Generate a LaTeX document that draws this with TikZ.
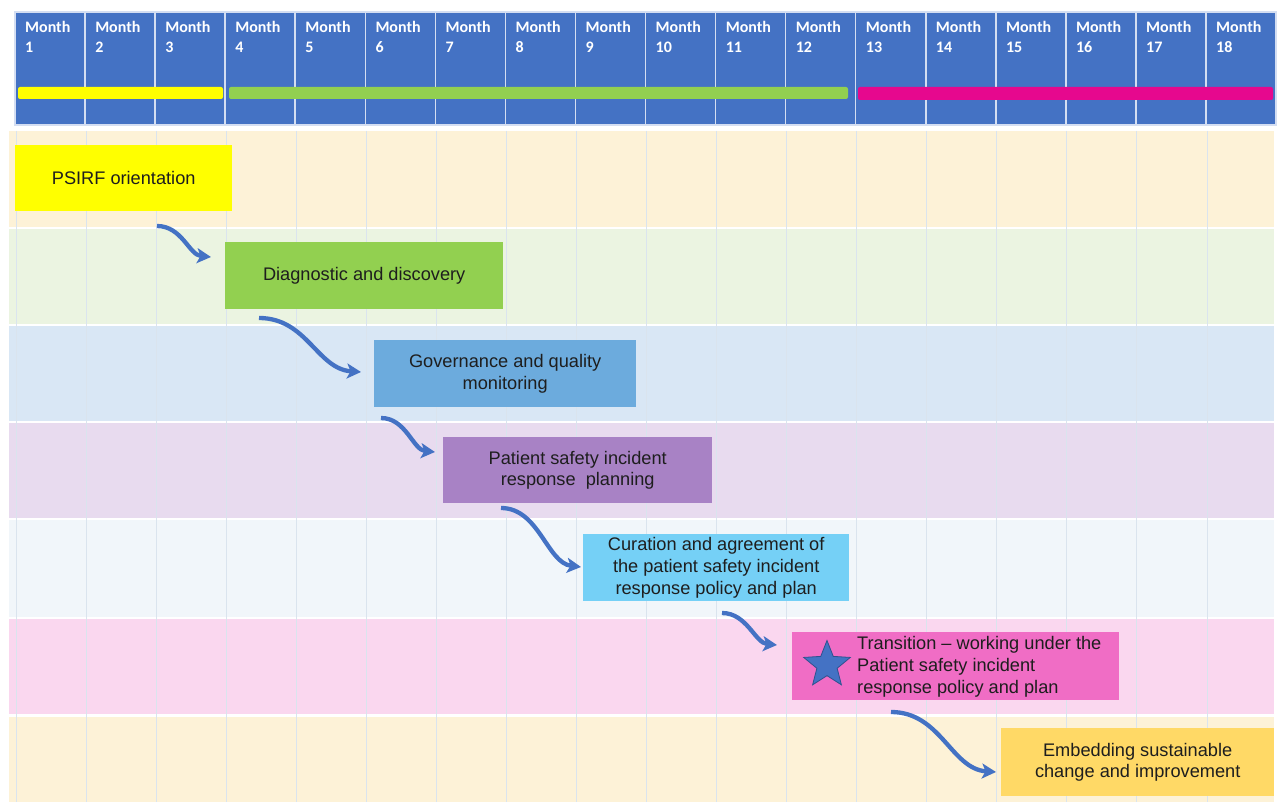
\documentclass[tikz,border=0pt]{standalone}
\usepackage{fontspec}
\setmainfont{Liberation Sans}
\newfontfamily\monthfont{Carlito}
\usetikzlibrary{arrows.meta,shapes.geometric}
\definecolor{headerblue}{HTML}{4472C4}
\definecolor{headerline}{HTML}{D4DEF2}
\definecolor{bandA}{HTML}{FDF2D7}
\definecolor{bandB}{HTML}{EBF4E1}
\definecolor{bandC}{HTML}{D9E7F5}
\definecolor{bandD}{HTML}{E8DBEF}
\definecolor{bandE}{HTML}{F1F6FA}
\definecolor{bandF}{HTML}{FAD7EF}
\definecolor{gridcol}{HTML}{DAE4EE}
\definecolor{boxyellow}{HTML}{FFFF00}
\definecolor{boxgreen}{HTML}{92D050}
\definecolor{boxgov}{HTML}{6CABDD}
\definecolor{boxpurple}{HTML}{A882C5}
\definecolor{boxcur}{HTML}{75D0F6}
\definecolor{boxpink}{HTML}{F06DC5}
\definecolor{boxgold}{HTML}{FFD966}
\definecolor{barmagenta}{HTML}{E6088E}
\definecolor{arrowblue}{HTML}{4472C4}
\definecolor{starborder}{HTML}{2F528F}
\definecolor{textdark}{HTML}{1E1E1E}
\begin{document}
\begin{tikzpicture}[x=1pt,y=-1pt,
  monthlabel/.style={anchor=base west,inner sep=0,text=white,font=\monthfont\bfseries\fontsize{16}{18}\selectfont},
  phasebox/.style={anchor=north west,inner sep=0,align=center,text=textdark,font=\fontsize{18.2}{21.8}\selectfont},
  flow/.style={draw=arrowblue,line width=4.3pt,-{Stealth[length=14pt,width=15pt,inset=3.5pt]}},
  gridline/.style={draw=gridcol,line width=1pt}]
\useasboundingbox (0,0) rectangle (1277,802);
\fill[white] (0,0) rectangle (1277,802);
% swim lanes
\foreach \t/\b/\c in {131/227/bandA,229/324/bandB,326/421/bandC,423/518/bandD,520/617/bandE,619/714/bandF,717/802/bandA}
  \fill[\c] (9,\t) rectangle (1274,\b);
\foreach \k in {0,...,18}
  \draw[gridline] ({16+70.06*\k},131) -- ({16+70.06*\k},802);
% header
\foreach \k in {1,...,18}{
  \pgfmathsetmacro\xl{15+70.06*(\k-1)}
  \fill[headerblue] (\xl,12) rectangle ({\xl+70.06},125);
  \draw[headerline,line width=1.5pt] (\xl,12) rectangle ({\xl+70.06},125);
  \node[monthlabel] (m\k) at ({\xl+10},33) {Month};
  \node[monthlabel] (n\k) at ({\xl+10},53) {\k};
}
\fill[boxyellow,rounded corners=2pt] (18,87) rectangle (223,99);
\fill[boxgreen,rounded corners=2pt] (229,87) rectangle (848,99);
\fill[barmagenta,rounded corners=2pt] (858,87) rectangle (1273,100);
% phases
\node[phasebox,fill=boxyellow,minimum width=217,minimum height=66] (b1) at (15,145) {PSIRF orientation};
\node[phasebox,fill=boxgreen,minimum width=278,minimum height=67] (b2) at (225,242) {Diagnostic and discovery};
\node[phasebox,fill=boxgov,minimum width=262,minimum height=67] (b3) at (374,340) {Governance and quality\\monitoring};
\node[phasebox,fill=boxpurple,minimum width=269,minimum height=66] (b4) at (443,437) {Patient safety incident\\response\ \ planning};
\node[phasebox,fill=boxcur,minimum width=266,minimum height=67] (b5) at (583,534) {Curation and agreement of\\the patient safety incident\\response policy and plan};
\node[phasebox,fill=boxpink,minimum width=327,minimum height=68] (b6) at (792,632) {};
\node[star,star points=5,star point ratio=2.3,minimum size=49,inner sep=0,fill=headerblue,draw=starborder,line width=0.8pt] (st) at (827,665) {};
\node[anchor=west,inner sep=0,align=left,text=textdark,font=\fontsize{18.2}{21.8}\selectfont] (t6) at (857,667) {Transition -- working under the\\Patient safety incident\\response policy and plan};
\node[phasebox,fill=boxgold,minimum width=273,minimum height=68] (b7) at (1001,728) {Embedding sustainable\\change and improvement};
% connector ends
\coordinate (s1) at (157,226); \coordinate (e1) at (211,257);
\coordinate (s2) at (259,318); \coordinate (e2) at (361,372);
\coordinate (s3) at (381,418); \coordinate (e3) at (435,452);
\coordinate (s4) at (501,508); \coordinate (e4) at (581,567);
\coordinate (s5) at (722,613); \coordinate (e5) at (777,645);
\coordinate (s6) at (891,712); \coordinate (e6) at (996,772);
\draw[flow] (s1) .. controls +(25,0) and +(-22,-2) .. (e1);
\draw[flow] (s2) .. controls +(48,0) and +(-44,-3) .. (e2);
\draw[flow] (s3) .. controls +(25,0) and +(-22,-2) .. (e3);
\draw[flow] (s4) .. controls +(38,0) and +(-34,-4) .. (e4);
\draw[flow] (s5) .. controls +(25,0) and +(-22,-2) .. (e5);
\draw[flow] (s6) .. controls +(50,0) and +(-45,-3) .. (e6);
\end{tikzpicture}
\end{document}
